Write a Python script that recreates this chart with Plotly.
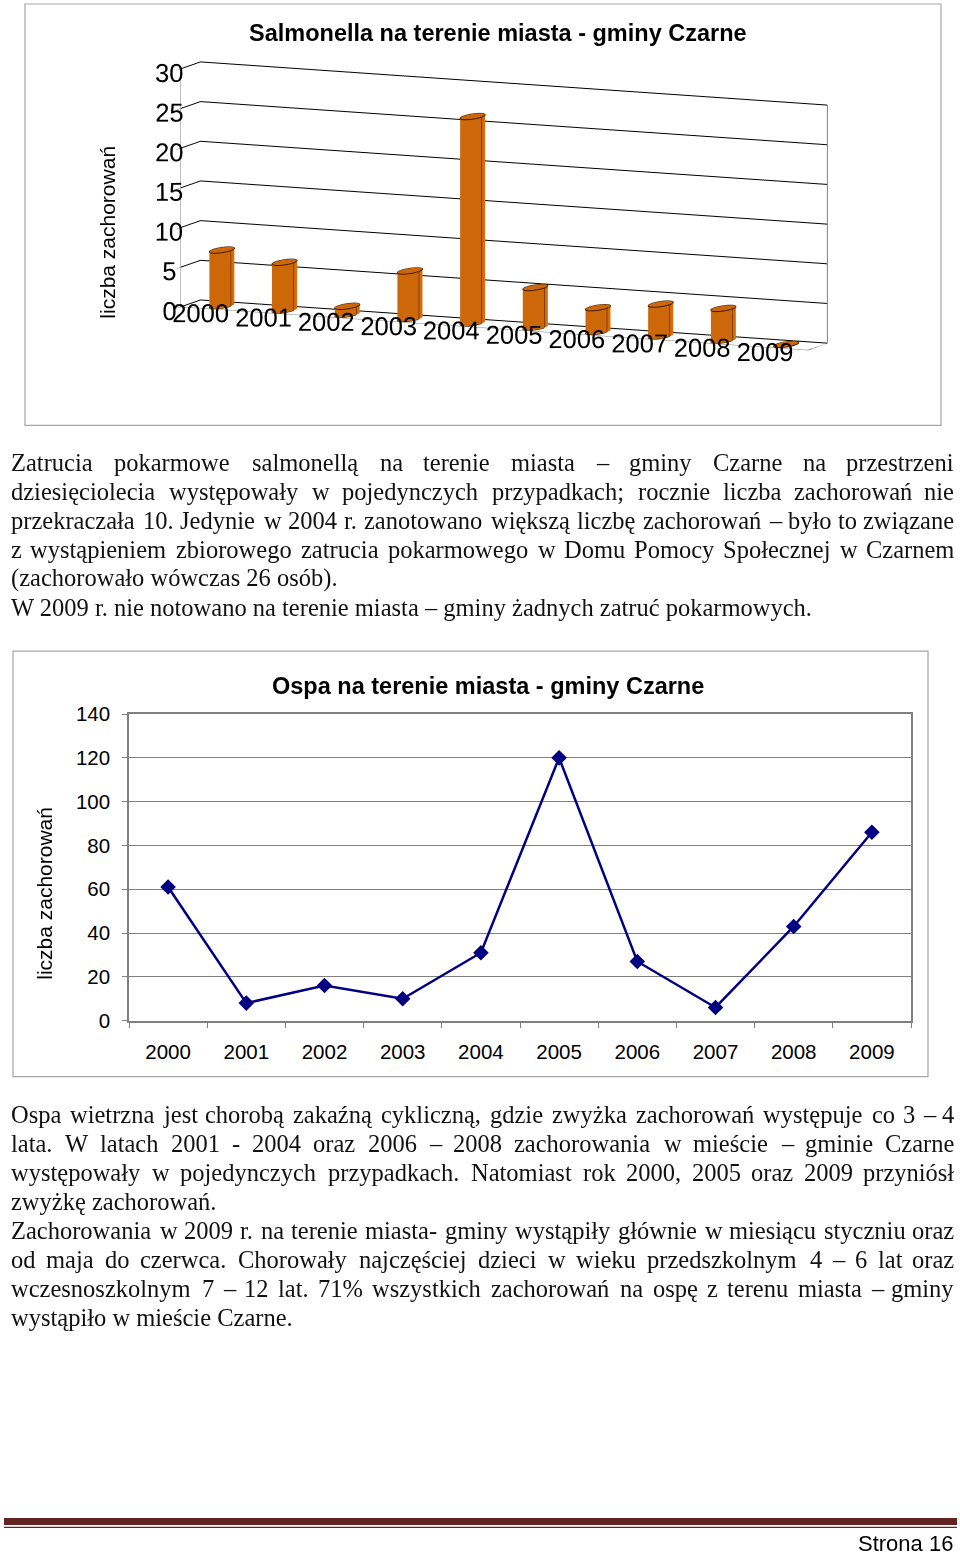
import numpy as np
import plotly.graph_objects as go

W, H = 960, 1558

# dane
years = ['2000', '2001', '2002', '2003', '2004', '2005', '2006', '2007', '2008', '2009']
salmonella = [7, 6, 1, 6, 26, 5, 3, 4, 4, 0]
ospa = [61, 8, 16, 10, 31, 120, 27, 6, 43, 86]
salm_ticks = [0, 5, 10, 15, 20, 25, 30]
ospa_ticks = [0, 20, 40, 60, 80, 100, 120, 140]

salm_title = 'Salmonella na terenie miasta - gminy Czarne'
ospa_title = 'Ospa na terenie miasta - gminy Czarne'
y_label = 'liczba zachorowań'

para1 = [
    'Zatrucia pokarmowe salmonellą na terenie miasta – gminy Czarne na przestrzeni',
    'dziesięciolecia występowały w pojedynczych przypadkach; rocznie liczba zachorowań nie',
    'przekraczała 10. Jedynie w 2004 r. zanotowano większą liczbę zachorowań – było to związane',
    'z wystąpieniem zbiorowego zatrucia pokarmowego w Domu Pomocy Społecznej w Czarnem',
    '(zachorowało wówczas 26 osób).',
    'W 2009 r. nie notowano na terenie miasta – gminy żadnych zatruć pokarmowych.',
]
para1_just = [True, True, True, True, False, False]
para2 = [
    'Ospa wietrzna jest chorobą zakaźną cykliczną, gdzie zwyżka zachorowań występuje  co 3 – 4',
    'lata. W latach  2001 - 2004  oraz 2006 – 2008  zachorowania w mieście – gminie Czarne',
    'występowały w pojedynczych przypadkach. Natomiast  rok 2000, 2005 oraz 2009 przyniósł',
    'zwyżkę zachorowań.',
    'Zachorowania w 2009 r. na terenie miasta- gminy wystąpiły głównie w miesiącu styczniu oraz',
    'od maja do czerwca. Chorowały najczęściej dzieci w wieku przedszkolnym 4 – 6 lat oraz',
    'wczesnoszkolnym 7 – 12 lat.  71% wszystkich zachorowań na ospę z terenu miasta – gminy',
    'wystąpiło w mieście Czarne.',
]
para2_just = [True, True, True, False, True, True, True, False]

SANS = 'Liberation Sans, Arial, sans-serif'
SERIF = 'Liberation Serif, Times New Roman, serif'
ORANGE = '#F07A0C'
NAVY = '#000080'

# zrzut strony przesuwa i lekko sciska wykres w pionie - korekta
TOP, SY = 12, 0.9866


def px(x):
    return x / W


def py(y):
    return 1 - (y - TOP) / SY / H


# szerokosci znakow (Times, jednostki /1000)
CHAR_W = {}
for chars, w in [('ijltłI;:', 278), ('frs()-', 333), ('sś', 389), ('aceząęćźżJ', 444),
                 ('bdghknopquvxyńó0123456789–', 500), ('PSF', 556), ('ELZT', 611),
                 ('BCR', 667), ('ADGHKNOUVXY', 722), ('mM', 778), ('w', 722), ('W', 944),
                 ('.,', 250), ('%', 833)]:
    for c in chars:
        CHAR_W[c] = w


def text_width(s, size):
    return sum(CHAR_W.get(c, 500) for c in s) * size / 1000 * 1.015


def paragraph(lines, just, top, size=24.5, step=29, left=10, right=955):
    out = []
    for i, line in enumerate(lines):
        y = py(top + i * step)
        if not just[i]:
            out.append(dict(text=line, x=px(left), y=y, xanchor='left'))
            continue
        words = line.split()
        widths = [text_width(w, size) for w in words]
        gap = (right - left - sum(widths)) / (len(words) - 1)
        x = left
        for j, w in enumerate(words):
            if j == len(words) - 1:
                out.append(dict(text=w, x=px(right), y=y, xanchor='right'))
            else:
                out.append(dict(text=w, x=px(x), y=y, xanchor='left'))
            x += widths[j] + gap
    for a in out:
        a.update(xref='paper', yref='paper', yanchor='middle', showarrow=False,
                 borderpad=0, font=dict(family=SERIF, size=size, color='#111111'))
    return out


# walce dla wykresu 3D
def cylinders(values, r=0.14, yc=0.5, ry=0.45, n=48):
    xs, ys, zs, ii, jj, kk = [], [], [], [], [], []
    lx, ly, lz = [], [], []
    t = np.linspace(0, 2 * np.pi, n, endpoint=False)
    for k, v in enumerate(values):
        cx = k + r * np.cos(t)
        cy = yc + ry * np.sin(t)
        # boki
        base = len(xs)
        for z in (0, v):
            xs += list(cx)
            ys += list(cy)
            zs += [z] * n
        for m in range(n):
            a, b = base + m, base + (m + 1) % n
            ii += [a, b]
            jj += [b, b + n]
            kk += [a + n, a + n]
        # denka
        for z in (0, v):
            base = len(xs)
            xs += list(cx) + [k]
            ys += list(cy) + [yc]
            zs += [z] * (n + 1)
            for m in range(n):
                ii.append(base + m)
                jj.append(base + (m + 1) % n)
                kk.append(base + n)
        ring = list(range(n)) + [0]
        lx += [cx[m] for m in ring] + [None]
        ly += [cy[m] for m in ring] + [None]
        lz += [v] * (n + 1) + [None]
        if v > 0:
            for m in (0, n // 2):
                lx += [cx[m], cx[m], None]
                ly += [cy[m], cy[m], None]
                lz += [0, v, None]
            front = list(range(n // 2, n + 1))
            lx += [cx[m % n] for m in front] + [None]
            ly += [cy[m % n] for m in front] + [None]
            lz += [0] * len(front) + [None]
    return (xs, ys, zs, ii, jj, kk), (lx, ly, lz)


fig = go.Figure()

(mx, my, mz, mi, mj, mk), (lx, ly, lz) = cylinders(salmonella)
fig.add_trace(go.Mesh3d(x=mx, y=my, z=mz, i=mi, j=mj, k=mk, color=ORANGE,
                        flatshading=False, scene='scene',
                        lighting=dict(ambient=0.85, diffuse=0.35, specular=0.1, roughness=0.8),
                        lightposition=dict(x=-800, y=-2000, z=600), hoverinfo='skip'))
fig.add_trace(go.Scatter3d(x=lx, y=ly, z=lz, mode='lines', scene='scene',
                           line=dict(color='#3c1a00', width=2), hoverinfo='skip'))
# prawa krawedz tylnej sciany
fig.add_trace(go.Scatter3d(x=[9.5, 9.5, 9.5], y=[0, 1, 1], z=[0, 0, 30], mode='lines',
                           scene='scene', line=dict(color='#808080', width=2), hoverinfo='skip'))

fig.add_trace(go.Scatter(x=years, y=ospa, mode='lines+markers', xaxis='x', yaxis='y',
                         line=dict(color=NAVY, width=2.5),
                         marker=dict(symbol='diamond', size=12, color=NAVY)))

axis3d = dict(showbackground=False, title=dict(text=''), zeroline=False, tickangle=0,
              tickfont=dict(family=SANS, size=17.5, color='black'))

fig.update_layout(
    width=W, height=H, margin=dict(l=0, r=0, t=0, b=0),
    paper_bgcolor='white', plot_bgcolor='white', showlegend=False,
    scene=dict(
        domain=dict(x=[px(79), px(929)], y=[py(381), py(31)]),
        xaxis=dict(axis3d, range=[-0.5, 9.5], tickvals=list(range(10)), ticktext=years,
                   showgrid=False, showline=True, linecolor='#808080', ticks='outside',
                   ticklen=25, tickcolor='rgba(0,0,0,0)'),
        yaxis=dict(axis3d, range=[0, 1], showticklabels=False, showgrid=False,
                   showline=False, ticks=''),
        zaxis=dict(axis3d, range=[0, 30], tickvals=salm_ticks, showgrid=True,
                   gridcolor='#000000', gridwidth=2, showline=True, linecolor='#808080',
                   ticks='outside', tickcolor='#808080', ticklen=8),
        aspectmode='manual', aspectratio=dict(x=3.92, y=0.28, z=1.377),
        camera=dict(eye=dict(x=0.567, y=-1.276, z=0.219), center=dict(x=0, y=0, z=0),
                    projection=dict(type='orthographic')),
    ),
    xaxis=dict(domain=[px(129), px(911)], anchor='y', type='category', range=[-0.5, 9.5],
               showgrid=False, showline=True, mirror=True, linecolor='#808080', linewidth=1.5,
               ticks='outside', tickson='boundaries', ticklen=6, tickcolor='#808080',
               tickfont=dict(family=SANS, size=20.5, color='black'), ticklabelstandoff=12),
    yaxis=dict(domain=[py(1022), py(715)], anchor='x', range=[0, 140], tickvals=ospa_ticks,
               showgrid=True, gridcolor='#808080', gridwidth=1, showline=True, mirror=True,
               linecolor='#808080', linewidth=1.5, ticks='outside', ticklen=5,
               tickcolor='#808080', zeroline=False,
               tickfont=dict(family=SANS, size=20.5, color='black'), ticklabelstandoff=8),
)

shapes = [
    dict(type='rect', xref='paper', yref='paper', x0=px(25), x1=px(941), y0=py(426), y1=py(4),
         line=dict(color='#a6a6a6', width=1.2)),
    dict(type='rect', xref='paper', yref='paper', x0=px(13), x1=px(928), y0=py(1078), y1=py(652),
         line=dict(color='#a6a6a6', width=1.2)),
    dict(type='rect', xref='paper', yref='paper', x0=px(4), x1=px(957), y0=py(1527), y1=py(1520),
         line=dict(width=0), fillcolor='#622423'),
    dict(type='line', xref='paper', yref='paper', x0=px(4), x1=px(957), y0=py(1529.5), y1=py(1529.5),
         line=dict(color='#622423', width=1.2)),
]

annotations = [
    dict(text='<b>' + salm_title + '</b>', x=px(498), y=py(33), font=dict(family=SANS, size=23.5)),
    dict(text=y_label, x=px(108), y=py(233), textangle=-90, font=dict(family=SANS, size=21)),
    dict(text='<b>' + ospa_title + '</b>', x=px(488), y=py(687), font=dict(family=SANS, size=23.5)),
    dict(text=y_label, x=px(45), y=py(895), textangle=-90, font=dict(family=SANS, size=21)),
    dict(text='Strona 16', x=px(955), y=py(1546), xanchor='right',
         font=dict(family='Liberation Sans Narrow, Arial Narrow, sans-serif', size=22)),
]
for a in annotations:
    a.setdefault('xanchor', 'center')
    a.update(xref='paper', yref='paper', yanchor='middle', showarrow=False)
    a['font'].setdefault('color', 'black')

annotations += paragraph(para1, para1_just, 463)
annotations += paragraph(para2, para2_just, 1116)

fig.update_layout(shapes=shapes, annotations=annotations)

# wykres przypiety do lewego gornego rogu strony
pin = ("var d=document.getElementById('{plot_id}');"
       "d.style.position='absolute';d.style.left='0px';d.style.top='0px';"
       "document.body.style.margin='0px';document.body.style.overflow='hidden';")
fig.write_html('out.html', config={'displayModeBar': False}, post_script=pin)
